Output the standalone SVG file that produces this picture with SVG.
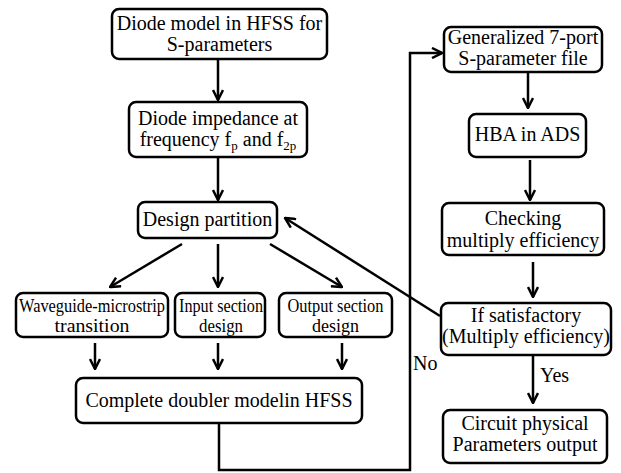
<svg xmlns="http://www.w3.org/2000/svg" width="621" height="473" viewBox="0 0 621 473">
<style>
.box{fill:#fff;stroke:#000;stroke-width:2.5}
text{font-family:'Liberation Serif','Times New Roman','DejaVu Serif',serif;font-size:20px;fill:#000;text-anchor:middle}
.n{font-size:18px}
.s{font-size:13px}
.c{fill:none;stroke:#000;stroke-width:2.5}
</style>
<defs>
<marker id="a" viewBox="0 0 12 12" refX="11" refY="6" markerWidth="12" markerHeight="12" markerUnits="userSpaceOnUse" orient="auto">
<path d="M1,1 L11,6 L1,11" fill="none" stroke="#000" stroke-width="2.5"/>
</marker>
</defs>
<g id="connectors">
<line class="c" x1="218" y1="59" x2="218" y2="100" marker-end="url(#a)"/>
<line class="c" x1="218" y1="157" x2="218" y2="200" marker-end="url(#a)"/>
<line class="c" x1="440" y1="316" x2="285" y2="218" marker-end="url(#a)"/>
<line class="c" x1="182" y1="244" x2="110" y2="287" marker-end="url(#a)"/>
<line class="c" x1="218" y1="244" x2="218" y2="287" marker-end="url(#a)"/>
<line class="c" x1="270" y1="244" x2="342" y2="287" marker-end="url(#a)"/>
<line class="c" x1="95" y1="343" x2="95" y2="369" marker-end="url(#a)"/>
<line class="c" x1="218" y1="343" x2="218" y2="369" marker-end="url(#a)"/>
<line class="c" x1="342" y1="343" x2="342" y2="369" marker-end="url(#a)"/>
<polyline class="c" points="219,423 219,470 410,470 410,53 442,53" marker-end="url(#a)"/>
<line class="c" x1="528" y1="72" x2="528" y2="108" marker-end="url(#a)"/>
<line class="c" x1="530" y1="160" x2="530" y2="200" marker-end="url(#a)"/>
<line class="c" x1="533" y1="262" x2="533" y2="297" marker-end="url(#a)"/>
<line class="c" x1="533" y1="355" x2="533" y2="403" marker-end="url(#a)"/>
<text x="413" y="370" style="text-anchor:start">No</text>
<text x="540" y="382" style="text-anchor:start">Yes</text>
</g>
<g id="n1"><rect class="box" x="112" y="9" width="215" height="50" rx="7"/>
<text x="219.5" y="30">Diode model in HFSS for</text>
<text x="219.5" y="51">S-parameters</text></g>
<g id="n2"><rect class="box" x="129" y="102" width="178" height="55" rx="7"/>
<text x="218" y="125">Diode impedance at</text>
<text x="218" y="146">frequency f<tspan class="s" dy="4">p</tspan><tspan dy="-4"> and f</tspan><tspan class="s" dy="4">2p</tspan></text></g>
<g id="n3"><rect class="box" x="138" y="202" width="139" height="36" rx="7"/>
<text x="207.5" y="226">Design partition</text></g>
<g id="n4"><rect class="box" x="16" y="293" width="152" height="44" rx="7"/>
<text class="n" x="92" y="312" textLength="146" lengthAdjust="spacingAndGlyphs">Waveguide-microstrip</text>
<text class="n" x="92" y="332" textLength="75" lengthAdjust="spacingAndGlyphs">transition</text></g>
<g id="n5"><rect class="box" x="175" y="293" width="90" height="44" rx="7"/>
<text class="n" x="221" y="312" textLength="84" lengthAdjust="spacingAndGlyphs">Input section</text>
<text class="n" x="221" y="332" textLength="44" lengthAdjust="spacingAndGlyphs">design</text></g>
<g id="n6"><rect class="box" x="279" y="293" width="113" height="44" rx="7"/>
<text class="n" x="335.5" y="312" textLength="96" lengthAdjust="spacingAndGlyphs">Output section</text>
<text class="n" x="335.5" y="332" textLength="47" lengthAdjust="spacingAndGlyphs">design</text></g>
<g id="n7"><rect class="box" x="76" y="378" width="286" height="45" rx="7"/>
<text x="219" y="407">Complete doubler modelin HFSS</text></g>
<g id="n8"><rect class="box" x="444" y="27" width="158" height="45" rx="7"/>
<text x="523" y="44">Generalized 7-port</text>
<text x="523" y="65">S-parameter file</text></g>
<g id="n9"><rect class="box" x="469" y="114" width="117" height="43" rx="7"/>
<text x="527.5" y="141">HBA in ADS</text></g>
<g id="n10"><rect class="box" x="442" y="203" width="162" height="52" rx="7"/>
<text x="523" y="225">Checking</text>
<text x="523" y="247">multiply efficiency</text></g>
<g id="n11"><rect class="box" x="441" y="303" width="170" height="52" rx="7"/>
<text x="526" y="322">If satisfactory</text>
<text x="526" y="343">(Multiply efficiency)</text></g>
<g id="n12"><rect class="box" x="443" y="410" width="164" height="53" rx="7"/>
<text x="525" y="430">Circuit physical</text>
<text x="525" y="451">Parameters output</text></g>
</svg>
